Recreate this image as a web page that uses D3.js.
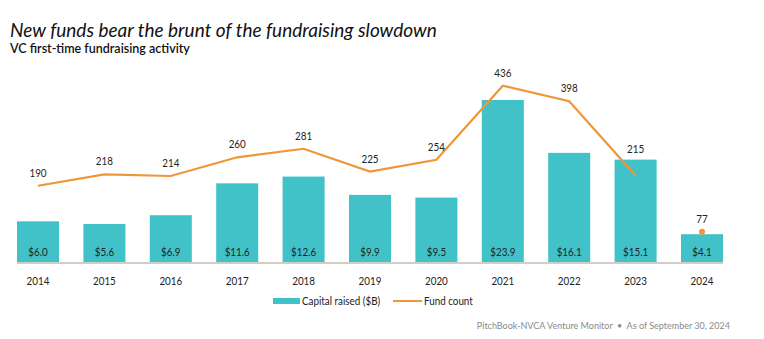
<!DOCTYPE html>
<html>
<head>
<meta charset="utf-8">
<script src="https://cdn.jsdelivr.net/npm/d3@7"></script>
<style>
  html, body { margin: 0; padding: 0; background: #fff; }
  svg { display: block; font-family: Lato, "Open Sans", sans-serif; }
</style>
</head>
<body>
<svg id="chart" width="764" height="339"></svg>
<script>
const years = ["2014","2015","2016","2017","2018","2019","2020","2021","2022","2023","2024"];
const capitalRaised = [6.0, 5.6, 6.9, 11.6, 12.6, 9.9, 9.5, 23.9, 16.1, 15.1, 4.1];
const fundCount = [190, 218, 214, 260, 281, 225, 254, 436, 398, 215, 77];
const title = "New funds bear the brunt of the fundraising slowdown";
const subtitle = "VC first-time fundraising activity";
const legendLabels = ["Capital raised ($B)", "Fund count"];
const source = "PitchBook-NVCA Venture Monitor  \u2022  As of September 30, 2024";

const teal = "#41C2C8", orange = "#EF9639", textColor = "#222";
const cond = 0.82; // horizontal condensing to mimic the narrow typeface
const svg = d3.select("#chart");

const x = d3.scaleBand().domain(years).range([4.8, 735.2]).paddingInner(0.367).paddingOuter(0.1835);
const yBar = d3.scaleLinear().domain([0, 30]).range([262, 58.6]);
const yLine = d3.scaleLinear().domain([0, 500]).range([263, 59.75]);

svg.append("text").attr("x", 10).attr("y", 37)
  .attr("font-size", 19).attr("font-style", "italic").attr("fill", "#111")
  .text(title);
svg.append("text").attr("x", 10).attr("y", 53)
  .attr("font-size", 12.5).attr("font-weight", 600).attr("fill", "#111")
  .text(subtitle);

// bars
svg.append("g").selectAll("rect").data(years).join("rect")
  .attr("x", d => x(d)).attr("width", x.bandwidth())
  .attr("y", (d, i) => yBar(capitalRaised[i]))
  .attr("height", (d, i) => yBar(0) - yBar(capitalRaised[i]))
  .attr("fill", teal);

// baseline axis
const xAxis = d3.axisBottom(x).tickSize(0).tickPadding(14);
const ax = svg.append("g").attr("transform", `translate(0,${yBar(0)})`).call(xAxis);
ax.select(".domain").remove();
ax.append("line").attr("x1", x(years[0])).attr("x2", x(years[years.length-1]) + x.bandwidth())
  .attr("y1", 1).attr("y2", 1).attr("stroke", "#d2cec6").attr("stroke-width", 2);
ax.selectAll(".tick text").attr("font-size", 12).attr("fill", textColor)
  .attr("font-family", "Lato, sans-serif").attr("transform", `scale(${cond},1)`);

// bar value labels
svg.append("g").selectAll("text").data(years).join("text")
  .attr("transform", d => `translate(${x(d) + x.bandwidth() / 2},${yBar(0) - 6}) scale(${cond},1)`)
  .attr("text-anchor", "middle").attr("font-size", 12).attr("fill", textColor)
  .text((d, i) => "$" + capitalRaised[i].toFixed(1));

// line (2014-2023) and 2024 dot
const cx = d => x(d) + x.bandwidth() / 2;
const lineData = years.slice(0, 10).map((d, i) => [cx(d), yLine(fundCount[i])]);
svg.append("path").attr("d", d3.line()(lineData))
  .attr("fill", "none").attr("stroke", orange).attr("stroke-width", 2.2);
svg.append("circle").attr("cx", cx(years[10])).attr("cy", yLine(fundCount[10]))
  .attr("r", 3).attr("fill", orange);

// line labels: above the point, and kept above the bar when the point sits inside it
const labelY = i => {
  const py = yLine(fundCount[i]) - 9;
  const by = yBar(capitalRaised[i]) - 7;
  return yLine(fundCount[i]) > yBar(capitalRaised[i]) ? Math.min(py, by) : py;
};
svg.append("g").selectAll("text").data(years).join("text")
  .attr("transform", (d, i) => `translate(${cx(d)},${labelY(i)}) scale(${cond},1)`)
  .attr("text-anchor", "middle").attr("font-size", 12).attr("fill", textColor)
  .text((d, i) => fundCount[i]);

// legend
const lg = svg.append("g");
lg.append("rect").attr("x", 273).attr("y", 298).attr("width", 27).attr("height", 6).attr("fill", teal);
lg.append("text").attr("transform", `translate(302,305) scale(${cond},1)`)
  .attr("font-size", 12).attr("fill", textColor).text(legendLabels[0]);
lg.append("line").attr("x1", 393).attr("x2", 422).attr("y1", 301).attr("y2", 301)
  .attr("stroke", orange).attr("stroke-width", 2);
lg.append("text").attr("transform", `translate(424,305) scale(${cond},1)`)
  .attr("font-size", 12).attr("fill", textColor).text(legendLabels[1]);

// source
svg.append("text").attr("x", 730).attr("y", 329).attr("text-anchor", "end")
  .attr("font-size", 9).attr("fill", "#8a8a8a").attr("xml:space", "preserve").style("white-space", "pre")
  .text(source);
</script>
</body>
</html>
